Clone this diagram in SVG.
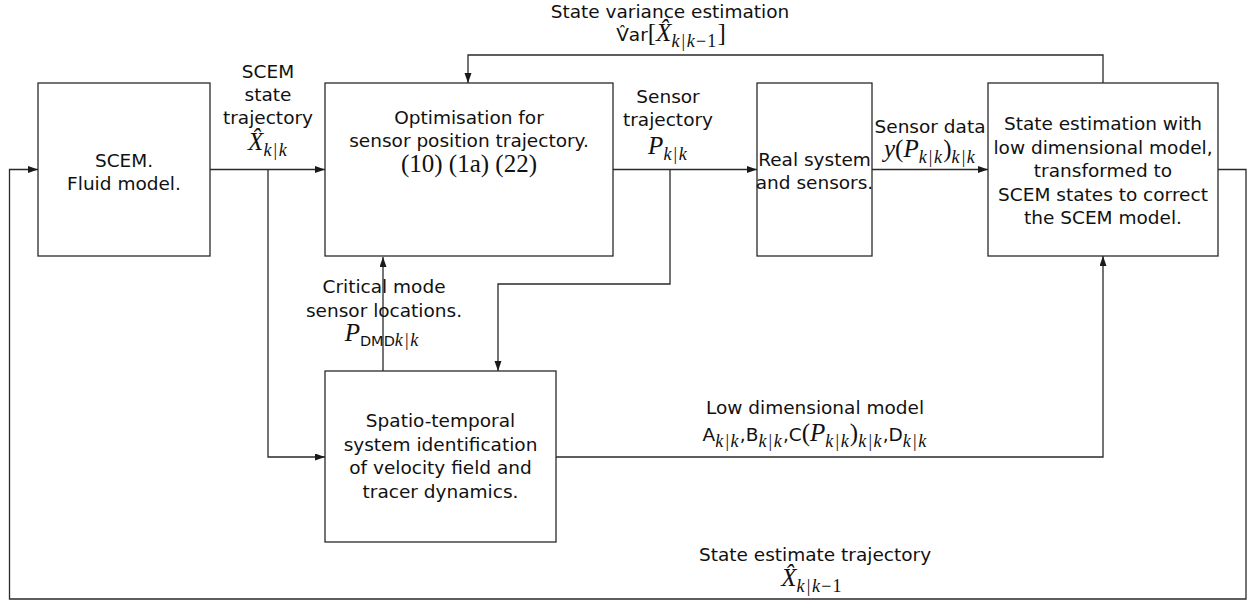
<svg xmlns="http://www.w3.org/2000/svg" width="1252" height="605" viewBox="0 0 1252 605">
<defs>
<marker id="ah" markerUnits="userSpaceOnUse" markerWidth="11" markerHeight="8" refX="10" refY="3.5" orient="auto">
<path d="M0,0 L10,3.5 L0,7 z" fill="#1a1a1a"/>
</marker>
<style>
.box{fill:#fff;stroke:#2a2a2a;stroke-width:1.3}
.w{fill:none;stroke:#2a2a2a;stroke-width:1.3;marker-end:url(#ah)}
.t{font-family:"DejaVu Sans",sans-serif;font-size:18.5px;fill:#111;text-anchor:middle}
.mi{font-family:"Liberation Serif",serif;font-style:italic;font-size:25px}
.rm{font-family:"Liberation Serif",serif;font-style:normal;font-size:25px}
.sb{font-family:"Liberation Serif",serif;font-style:italic;font-size:18px;letter-spacing:1.2px}
.sr{font-family:"Liberation Serif",serif;font-style:normal;font-size:18px;letter-spacing:1.2px}
.ss{font-family:"DejaVu Sans",sans-serif;font-size:14.5px}
</style>
</defs>
<rect width="1252" height="605" fill="#fff"/>

<g id="connectors">
<path class="w" d="M1103,83 V55 H468 V83"/>
<path class="w" d="M210,169.5 H325"/>
<path class="w" d="M268,169.5 V457 H325"/>
<path class="w" d="M613,169.5 H757"/>
<path class="w" d="M670,169.5 V284 H498 V371"/>
<path class="w" d="M383,371 V257"/>
<path class="w" d="M872,169.5 H988"/>
<path class="w" d="M556,457 H1103 V256"/>
<path class="w" d="M1218,169.5 H1246 V599 H9.5 V169.5 H38"/>
</g>

<g id="n-scem">
<rect class="box" x="38" y="83" width="172" height="173"/>
<text class="t" x="124" y="167">SCEM.</text>
<text class="t" x="124" y="190">Fluid model.</text>
</g>

<g id="n-opt">
<rect class="box" x="325" y="83" width="288" height="173"/>
<text class="t" x="469" y="124">Optimisation for</text>
<text class="t" x="469" y="147">sensor position trajectory.</text>
<text class="t" x="469" y="171.5"><tspan class="rm" font-size="20px">(10) (1a) (22)</tspan></text>
</g>

<g id="n-real">
<rect class="box" x="757" y="83" width="115" height="173"/>
<text class="t" x="814.5" y="166">Real system</text>
<text class="t" x="814.5" y="189">and sensors.</text>
</g>

<g id="n-est">
<rect class="box" x="988" y="83" width="230" height="173"/>
<text class="t" x="1103" y="130">State estimation with</text>
<text class="t" x="1103" y="153.5">low dimensional model,</text>
<text class="t" x="1103" y="177">transformed to</text>
<text class="t" x="1103" y="200.5">SCEM states to correct</text>
<text class="t" x="1103" y="224">the SCEM model.</text>
</g>

<g id="n-spatio">
<rect class="box" x="325" y="371" width="231" height="171"/>
<text class="t" x="440.5" y="427">Spatio-temporal</text>
<text class="t" x="440.5" y="450.5">system identification</text>
<text class="t" x="440.5" y="474">of velocity field and</text>
<text class="t" x="440.5" y="497.5">tracer dynamics.</text>
</g>

<g id="labels">
<text class="t" x="670" y="17.5">State variance estimation</text>
<text class="t" x="671" y="41">V̂ar<tspan class="rm">[</tspan><tspan class="mi">X̂</tspan><tspan class="sb" dy="6">k|k</tspan><tspan class="sr">−1</tspan><tspan class="rm" dy="-6">]</tspan></text>

<text class="t" x="268" y="78">SCEM</text>
<text class="t" x="268" y="101">state</text>
<text class="t" x="268" y="124">trajectory</text>
<text class="t" x="268" y="150"><tspan class="mi">X̂</tspan><tspan class="sb" dy="6">k|k</tspan></text>

<text class="t" x="668" y="103">Sensor</text>
<text class="t" x="668" y="126">trajectory</text>
<text class="t" x="668" y="154"><tspan class="mi">P</tspan><tspan class="sb" dy="6">k|k</tspan></text>

<text class="t" x="930" y="133">Sensor data</text>
<text class="t" x="930" y="157"><tspan class="mi">y</tspan><tspan class="rm">(</tspan><tspan class="mi">P</tspan><tspan class="sb" dy="6">k|k</tspan><tspan class="rm" dy="-6">)</tspan><tspan class="sb" dy="6">k|k</tspan></text>

<text class="t" x="384" y="293">Critical mode</text>
<text class="t" x="384" y="317">sensor locations.</text>
<text class="t" x="382" y="341"><tspan class="mi">P</tspan><tspan class="ss" dy="5">DMD</tspan><tspan class="sb">k|k</tspan></text>

<text class="t" x="815" y="414">Low dimensional model</text>
<text class="t" x="815" y="441">A<tspan class="sb" dy="6">k|k</tspan><tspan dy="-6">,</tspan>B<tspan class="sb" dy="6">k|k</tspan><tspan dy="-6">,</tspan>C<tspan class="rm" font-size="22px">(</tspan><tspan class="mi" font-size="22px">P</tspan><tspan class="sb" dy="6">k|k</tspan><tspan class="rm" font-size="22px" dy="-6">)</tspan><tspan class="sb" dy="6">k|k</tspan><tspan dy="-6">,</tspan>D<tspan class="sb" dy="6">k|k</tspan></text>

<text class="t" x="815" y="561">State estimate trajectory</text>
<text class="t" x="812" y="586"><tspan class="mi">X̂</tspan><tspan class="sb" dy="6">k|k</tspan><tspan class="sr">−1</tspan></text>
</g>
</svg>
